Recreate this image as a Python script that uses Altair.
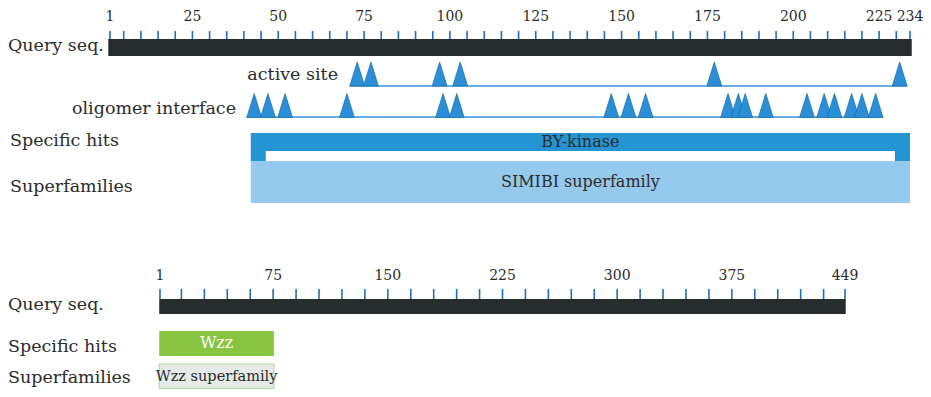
import altair as alt
import pandas as pd

# ---------------- data ----------------
TOP_LEN = 234
top_tick_labels = [1, 25, 50, 75, 100, 125, 150, 175, 200, 225, 234]
top_tick_marks = [1] + list(range(5, 231, 5)) + [234]
active_site = [73, 77, 97, 103, 177, 231]
oligomer_interface = [43, 47, 52, 70, 98, 102, 147, 152, 157, 181, 184, 186,
                      192, 204, 209, 212, 217, 220, 224]
top_hit_names = ["BY-kinase"]
top_hit_from = [42]
top_hit_to = [234]
top_super_names = ["SIMIBI superfamily"]
top_super_from = [42]
top_super_to = [234]

BOT_LEN = 449
bot_tick_labels = [1, 75, 150, 225, 300, 375, 449]
bot_tick_marks = [1] + list(range(15, 436, 15)) + [449]
bot_hit_names = ["Wzz"]
bot_hit_from = [1]
bot_hit_to = [75]
bot_super_names = ["Wzz superfamily"]
bot_super_from = [1]
bot_super_to = [75]

# ---------------- style ----------------
FONT = "DejaVu Serif"
TXT = "#2b2b2b"
BAR = "#272c2d"
TICK = "#1f6db8"
TRI_FILL = "#2a8fd6"
TRI_EDGE = "#1a6aaa"
LINE = "#3a92d8"
HIT = "#2494d3"
SUPER = "#96c9ee"
GREEN = "#87c540"

xs_top = alt.Scale(domain=[1, TOP_LEN], range=[102, 902])
xs_bot = alt.Scale(domain=[1, BOT_LEN], range=[152, 837])

TRI = "M-0.62,1L0,-1L0.62,1Z"

# vertical layout (pixels) of the two panels
T = -9    # top panel shift
B = -15   # bottom panel shift


def X(field, scale):
    return alt.X(field, type="quantitative", scale=scale, axis=None)


def X2(field):
    return alt.X2(field)


layers = []

# ---------- top panel ----------
df = pd.DataFrame({"pos": top_tick_labels, "label": [str(v) for v in top_tick_labels]})
layers.append(alt.Chart(df).mark_text(font=FONT, fontSize=14, color=TXT, baseline="middle")
              .encode(x=X("pos", xs_top), y=alt.value(18 + T), text="label:N"))
df = pd.DataFrame({"pos": top_tick_marks})
layers.append(alt.Chart(df).mark_rule(color=TICK, strokeWidth=1.6)
              .encode(x=X("pos", xs_top), y=alt.value(32 + T), y2=alt.value(40 + T)))
df = pd.DataFrame({"s": [0.5], "e": [TOP_LEN + 0.5]})
layers.append(alt.Chart(df).mark_rect(color=BAR)
              .encode(x=X("s", xs_top), x2=X2("e"), y=alt.value(40 + T), y2=alt.value(57 + T)))

for sites, yc, ybase in [(active_site, 75 + T, 87 + T), (oligomer_interface, 106.5 + T, 118 + T)]:
    df = pd.DataFrame({"s": [min(sites)], "e": [max(sites)]})
    layers.append(alt.Chart(df).mark_rule(color=LINE, strokeWidth=1.6, xOffset=-7.5, x2Offset=7.5)
                  .encode(x=X("s", xs_top), x2=X2("e"), y=alt.value(ybase)))
    df = pd.DataFrame({"pos": sites})
    layers.append(alt.Chart(df).mark_point(shape=TRI, size=576, filled=True, fill=TRI_FILL,
                                           stroke=TRI_EDGE, strokeWidth=0.7, opacity=1)
                  .encode(x=X("pos", xs_top), y=alt.value(yc)))

df = pd.DataFrame({"name": top_hit_names, "s": top_hit_from, "e": top_hit_to})
layers.append(alt.Chart(df).mark_rect(color=HIT)
              .encode(x=X("s", xs_top), x2=X2("e"), y=alt.value(134 + T), y2=alt.value(162 + T)))
layers.append(alt.Chart(df).mark_rect(color="white", xOffset=15, x2Offset=-15)
              .encode(x=X("s", xs_top), x2=X2("e"), y=alt.value(152 + T), y2=alt.value(162 + T)))
df["mid"] = [(a + b) / 2 for a, b in zip(top_hit_from, top_hit_to)]
layers.append(alt.Chart(df).mark_text(font=FONT, fontSize=16, color=TXT, baseline="middle")
              .encode(x=X("mid", xs_top), y=alt.value(143 + T), text="name:N"))

df = pd.DataFrame({"name": top_super_names, "s": top_super_from, "e": top_super_to})
layers.append(alt.Chart(df).mark_rect(color=SUPER)
              .encode(x=X("s", xs_top), x2=X2("e"), y=alt.value(162 + T), y2=alt.value(204 + T)))
df["mid"] = [(a + b) / 2 for a, b in zip(top_super_from, top_super_to)]
layers.append(alt.Chart(df).mark_text(font=FONT, fontSize=16, color=TXT, baseline="middle")
              .encode(x=X("mid", xs_top), y=alt.value(183 + T), text="name:N"))

# ---------- bottom panel ----------
df = pd.DataFrame({"pos": bot_tick_labels, "label": [str(v) for v in bot_tick_labels]})
layers.append(alt.Chart(df).mark_text(font=FONT, fontSize=14, color=TXT, baseline="middle")
              .encode(x=X("pos", xs_bot), y=alt.value(283 + B), text="label:N"))
df = pd.DataFrame({"pos": bot_tick_marks})
layers.append(alt.Chart(df).mark_rule(color=TICK, strokeWidth=1.6)
              .encode(x=X("pos", xs_bot), y=alt.value(296 + B), y2=alt.value(306 + B)))
df = pd.DataFrame({"s": [0.5], "e": [BOT_LEN + 0.5]})
layers.append(alt.Chart(df).mark_rect(color=BAR)
              .encode(x=X("s", xs_bot), x2=X2("e"), y=alt.value(306 + B), y2=alt.value(321 + B)))

df = pd.DataFrame({"name": bot_hit_names, "s": [v - 0.5 for v in bot_hit_from],
                   "e": [v + 0.5 for v in bot_hit_to]})
layers.append(alt.Chart(df).mark_rect(color=GREEN)
              .encode(x=X("s", xs_bot), x2=X2("e"), y=alt.value(338 + B), y2=alt.value(363 + B)))
df["mid"] = [(a + b) / 2 for a, b in zip(bot_hit_from, bot_hit_to)]
layers.append(alt.Chart(df).mark_text(font=FONT, fontSize=16, color="white", baseline="middle")
              .encode(x=X("mid", xs_bot), y=alt.value(350 + B), text="name:N"))

df = pd.DataFrame({"name": bot_super_names, "s": [v - 0.5 for v in bot_super_from],
                   "e": [v + 0.5 for v in bot_super_to]})
layers.append(alt.Chart(df).mark_rect(fill="#e6eae8", stroke="#b9dca2", strokeWidth=1.2)
              .encode(x=X("s", xs_bot), x2=X2("e"), y=alt.value(371 + B), y2=alt.value(395.5 + B)))
df["mid"] = [(a + b) / 2 for a, b in zip(bot_super_from, bot_super_to)]
layers.append(alt.Chart(df).mark_text(font=FONT, fontSize=14.5, color=TXT, baseline="middle")
              .encode(x=X("mid", xs_bot), y=alt.value(384 + B), text="name:N"))

# ---------- track labels ----------
track_labels = ["Query seq.", "Specific hits", "Superfamilies",
                "Query seq.", "Specific hits", "Superfamilies"]
label_y = [47 + T, 142 + T, 188 + T, 312 + B, 354 + B, 385 + B]
label_x = [0, 2, 2, 0, 0, 0]
for t, yy, xx in zip(track_labels, label_y, label_x):
    layers.append(alt.Chart(pd.DataFrame({"t": [t]})).mark_text(
        font=FONT, fontSize=17.5, color=TXT, align="left", baseline="middle")
        .encode(x=alt.value(xx), y=alt.value(yy), text="t:N"))

for t, yy, xx in [("active site", 76 + T, 330), ("oligomer interface", 110 + T, 228)]:
    layers.append(alt.Chart(pd.DataFrame({"t": [t]})).mark_text(
        font=FONT, fontSize=17.5, color=TXT, align="right", baseline="middle")
        .encode(x=alt.value(xx), y=alt.value(yy), text="t:N"))

chart = (alt.layer(*layers)
         .resolve_scale(x="independent")
         .properties(width=915, height=381, padding=0, autosize="none")
         .configure_view(stroke=None))

chart.save("out.html", embed_options={"renderer": "svg", "actions": False})
